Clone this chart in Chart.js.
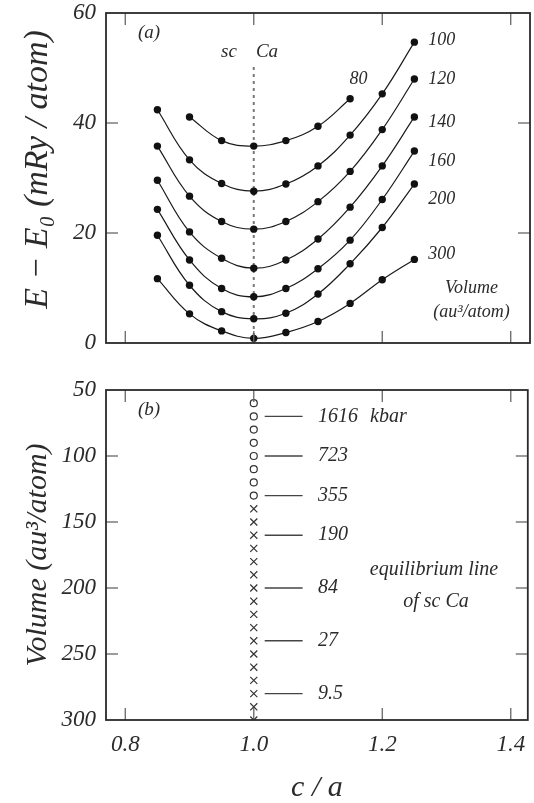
<!DOCTYPE html>
<html><head><meta charset="utf-8">
<script src="https://cdn.jsdelivr.net/npm/chart.js@4.4.1/dist/chart.umd.min.js"></script>
<style>
html,body{margin:0;padding:0;background:#fff;}
#wrap{position:relative;width:534px;height:803px;overflow:hidden;background:#fff;}
#c1box{position:absolute;left:0;top:0;width:534px;height:360px;}
#c2box{position:absolute;left:0;top:360px;width:534px;height:443px;}
</style></head><body>
<div id="wrap"><div id="c1box"><canvas id="c1"></canvas></div><div id="c2box"><canvas id="c2"></canvas></div></div>
<script>
// ---------- data: panel (a) ----------
const cOverA = [0.85, 0.90, 0.95, 1.00, 1.05, 1.10, 1.15, 1.20, 1.25];
const volumeNames = ['80', '100', '120', '140', '160', '200', '300'];
const E_v80  = [null, 41.1, 36.8, 35.8, 36.8, 39.4, 44.4, null, null];
const E_v100 = [42.4, 33.3, 29.0, 27.6, 28.9, 32.2, 37.8, 45.3, 54.7];
const E_v120 = [35.8, 26.7, 22.1, 20.7, 22.1, 25.7, 31.2, 38.8, 48.0];
const E_v140 = [29.6, 20.2, 15.4, 13.6, 15.1, 18.9, 24.7, 32.2, 41.1];
const E_v160 = [24.3, 15.1, 9.9, 8.4, 9.9, 13.5, 18.7, 26.1, 34.9];
const E_v200 = [19.6, 10.5, 5.7, 4.4, 5.4, 8.9, 14.4, 21.0, 28.9];
const E_v300 = [11.7, 5.3, 2.2, 0.85, 1.9, 3.9, 7.2, 11.5, 15.2];
const energyTicks = [0, 20, 40, 60];
const cOverATicks = [0.8, 1.0, 1.2, 1.4];

// ---------- data: panel (b) ----------
const scVolumesOpen  = [60, 70, 80, 90, 100, 110, 120, 130];
const scVolumesCross = [140, 150, 160, 170, 180, 190, 200, 210, 220, 230, 240, 250, 260, 270, 280, 290, 300];
const pressureVolumes = [70, 100, 130, 160, 200, 240, 280];
const pressureKbar = ['1616', '723', '355', '190', '84', '27', '9.5'];
const volumeTicks = [50, 100, 150, 200, 250, 300];

// ---------- styling / placement ----------
const FONT = "'Liberation Serif', 'Times New Roman', serif";
const TXT = '#2b2b2b';
Chart.defaults.font.family = FONT;
Chart.defaults.font.style = 'italic';
Chart.defaults.color = TXT;

const X_RANGE_A = [0.77, 1.43];
const X_RANGE_B = [0.77, 1.4265];
const PRESSURE_LINE_C = [1.017, 1.076];
const CURVE_LABEL_E = [48.0, 55.1, 48.0, 40.2, 33.1, 26.2, 16.2];

function setTicks(vals){ return s => { s.ticks = vals.map(v => ({value: v})); }; }

function line(ctx, x1, y1, x2, y2){ ctx.beginPath(); ctx.moveTo(x1, y1); ctx.lineTo(x2, y2); ctx.stroke(); }

function framePlugin(xTicks, yTicks){
  return {
    id: 'frame',
    afterDatasetsDraw(chart){
      const {ctx, chartArea: a, scales: {x, y}} = chart;
      ctx.save();
      ctx.strokeStyle = '#666'; ctx.lineWidth = 1.3;
      const L = 12;
      xTicks.forEach(v => { const p = x.getPixelForValue(v); line(ctx, p, a.top, p, a.top + L); line(ctx, p, a.bottom, p, a.bottom - L); });
      yTicks.forEach(v => { const p = y.getPixelForValue(v); line(ctx, a.left, p, a.left + L, p); line(ctx, a.right, p, a.right - L, p); });
      ctx.strokeStyle = '#2a2a2a'; ctx.lineWidth = 1.8;
      ctx.strokeRect(a.left, a.top, a.right - a.left, a.bottom - a.top);
      ctx.restore();
    }
  };
}

function curveDataset(vals){
  return {
    data: cOverA.map((c, i) => ({x: c, y: vals[i]})).filter(p => p.y !== null),
    borderColor: '#1a1a1a', borderWidth: 1.2, tension: 0.4,
    pointRadius: 3.7, pointBackgroundColor: '#111', pointBorderColor: '#111', pointBorderWidth: 0
  };
}

const curves = [E_v80, E_v100, E_v120, E_v140, E_v160, E_v200, E_v300];

const annotA = {
  id: 'annotA',
  afterDraw(chart){
    const {ctx, scales: {x, y}} = chart;
    ctx.save();
    ctx.fillStyle = TXT; ctx.textBaseline = 'middle';
    ctx.font = `italic 19px ${FONT}`;
    ctx.textAlign = 'center';
    ctx.fillText('(a)', 149, 33);
    ctx.fillText('sc', 229, 52);
    ctx.fillText('Ca', 267, 52);
    ctx.font = `italic 18px ${FONT}`;
    ctx.fillText(volumeNames[0], x.getPixelForValue(1.163), y.getPixelForValue(CURVE_LABEL_E[0]));
    ctx.textAlign = 'left';
    for (let i = 1; i < volumeNames.length; i++) {
      ctx.fillText(volumeNames[i], x.getPixelForValue(1.25) + 14, y.getPixelForValue(CURVE_LABEL_E[i]));
    }
    ctx.textAlign = 'center';
    ctx.fillText('Volume', x.getPixelForValue(1.339), y.getPixelForValue(10));
    ctx.fillText('(au³/atom)', x.getPixelForValue(1.339), y.getPixelForValue(5.6));
    ctx.restore();
  }
};

const hiddenTick = {display: false, drawTicks: true, tickColor: 'rgba(0,0,0,0)'};

new Chart(document.getElementById('c1'), {
  type: 'line',
  data: {
    datasets: [
      ...curves.map(curveDataset),
      { data: [{x: 1.0, y: 50.2}, {x: 1.0, y: 0}], borderColor: '#7a7a7a', borderWidth: 2, borderDash: [3, 4], pointRadius: 0, tension: 0 }
    ]
  },
  options: {
    responsive: true, maintainAspectRatio: false, animation: false, devicePixelRatio: 1,
    layout: {padding: {left: 0, right: 4, top: 13, bottom: 17}},
    scales: {
      x: {type: 'linear', display: false, min: X_RANGE_A[0], max: X_RANGE_A[1]},
      y: {
        type: 'linear', min: 0, max: 60,
        afterBuildTicks: setTicks(energyTicks),
        afterFit: s => { s.width = 106; },
        grid: {...hiddenTick, tickLength: 10}, border: {display: false},
        ticks: {padding: 0, font: {size: 23, lineHeight: 1}, color: TXT},
        title: {display: true, text: '  E − E₀ (mRy / atom)', color: TXT, font: {size: 34}, padding: {top: 18, bottom: 0}}
      }
    },
    plugins: {legend: {display: false}, tooltip: {enabled: false}}
  },
  plugins: [framePlugin(cOverATicks, [20, 40]), annotA]
});

const annotB = {
  id: 'annotB',
  afterDraw(chart){
    const {ctx, scales: {x, y}} = chart;
    ctx.save();
    ctx.fillStyle = TXT; ctx.textBaseline = 'middle';
    ctx.font = `italic 19px ${FONT}`;
    ctx.textAlign = 'center';
    ctx.fillText('(b)', 149, 50);
    ctx.font = `italic 20px ${FONT}`;
    ctx.textAlign = 'left';
    pressureVolumes.forEach((v, i) => {
      ctx.fillText(pressureKbar[i], 318, y.getPixelForValue(v));
    });
    ctx.fillText('kbar', 370, y.getPixelForValue(pressureVolumes[0]));
    ctx.textAlign = 'center';
    ctx.fillText('equilibrium line', 434, 210);
    ctx.fillText('of sc Ca', 436, 242);
    ctx.restore();
  }
};

new Chart(document.getElementById('c2'), {
  type: 'line',
  data: {
    datasets: [
      { data: scVolumesOpen.map(v => ({x: 1.0, y: v})), showLine: false, pointStyle: 'circle', pointRadius: 3.5,
        pointBackgroundColor: '#fff', pointBorderColor: '#333', pointBorderWidth: 1.2 },
      { data: scVolumesCross.map(v => ({x: 1.0, y: v})), showLine: false, pointStyle: 'crossRot', pointRadius: 5,
        pointBorderColor: '#333', pointBorderWidth: 1.2 },
      ...pressureVolumes.map(v => ({
        data: PRESSURE_LINE_C.map(c => ({x: c, y: v})), borderColor: '#444', borderWidth: 1.4, pointRadius: 0, tension: 0
      }))
    ]
  },
  options: {
    responsive: true, maintainAspectRatio: false, animation: false, devicePixelRatio: 1,
    layout: {padding: {left: 0, right: 6, top: 30, bottom: 0}},
    scales: {
      x: {
        type: 'linear', min: X_RANGE_B[0], max: X_RANGE_B[1],
        afterBuildTicks: setTicks(cOverATicks),
        afterFit: s => { s.height = 83; s.paddingLeft = 0; s.paddingRight = 0; },
        grid: {...hiddenTick, tickLength: 13}, border: {display: false},
        ticks: {padding: 0, font: {size: 23, lineHeight: 1}, color: TXT, callback: v => Number(v).toFixed(1)},
        title: {display: true, text: 'c / a', color: TXT, font: {size: 30, lineHeight: 1}, padding: {top: 0, bottom: 0}}
      },
      y: {
        type: 'linear', min: 50, max: 300, reverse: true,
        afterBuildTicks: setTicks(volumeTicks),
        afterFit: s => { s.width = 106; },
        grid: {...hiddenTick, tickLength: 10}, border: {display: false},
        ticks: {padding: 0, font: {size: 23, lineHeight: 1}, color: TXT},
        title: {display: true, text: 'Volume (au³/atom)', color: TXT, font: {size: 30}, padding: {top: 20, bottom: 0}}
      }
    },
    plugins: {legend: {display: false}, tooltip: {enabled: false}}
  },
  plugins: [framePlugin(cOverATicks, [100, 150, 200, 250]), annotB]
});
</script>
</body></html>
